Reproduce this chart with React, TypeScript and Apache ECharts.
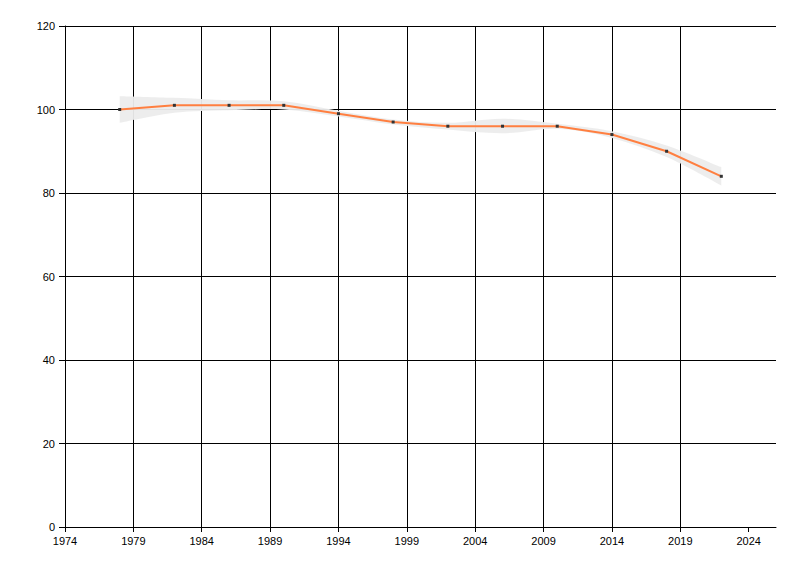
import React, { useEffect, useRef } from "react";
import * as echarts from "echarts";

const years = [1978, 1982, 1986, 1990, 1994, 1998, 2002, 2006, 2010, 2014, 2018, 2022];
const values = [100, 101, 101, 101, 99, 97, 96, 96, 96, 94, 90, 84];
const lowerBand = [96.8, 99.2, 99.8, 100, 98.3, 96.4, 95.2, 94.3, 95.4, 93.2, 88.6, 81.8];
const upperBand = [103.2, 102.8, 102.2, 102, 99.7, 97.6, 96.8, 97.8, 96.6, 94.8, 91.4, 86.2];
const xTicks = [1974, 1979, 1984, 1989, 1994, 1999, 2004, 2009, 2014, 2019, 2024];

function curveThrough(ctx: any, pts: number[][], k: number) {
  for (let i = 0; i < pts.length - 1; i++) {
    const p0 = pts[Math.max(0, i - 1)];
    const p1 = pts[i];
    const p2 = pts[i + 1];
    const p3 = pts[Math.min(pts.length - 1, i + 2)];
    const c1x = p1[0] + ((p2[0] - p0[0]) * k) / 6;
    const c1y = p1[1] + ((p2[1] - p0[1]) * k) / 6;
    const c2x = p2[0] - ((p3[0] - p1[0]) * k) / 6;
    const c2y = p2[1] - ((p3[1] - p1[1]) * k) / 6;
    ctx.bezierCurveTo(c1x, c1y, c2x, c2y, p2[0], p2[1]);
  }
}

let registered = false;
function registerBand() {
  if (registered) return;
  registered = true;
  const BandShape = (echarts.graphic as any).extendShape({
    type: "bandShape",
    shape: { upper: [], lower: [] },
    buildPath(ctx: any, shape: any) {
      const up: number[][] = shape.upper;
      const lo: number[][] = shape.lower.slice().reverse();
      if (!up.length) return;
      ctx.moveTo(up[0][0], up[0][1]);
      curveThrough(ctx, up, 1);
      ctx.lineTo(lo[0][0], lo[0][1]);
      curveThrough(ctx, lo, 1);
      ctx.closePath();
    },
  });
  echarts.graphic.registerShape("bandShape", BandShape);
}

export default function App() {
  const ref = useRef<HTMLDivElement>(null);
  useEffect(() => {
    registerBand();
    const chart = echarts.init(ref.current!, null, { renderer: "svg" });
    const font = "Liberation Sans";
    chart.setOption({
      animation: false,
      backgroundColor: "#ffffff",
      grid: { left: 65, top: 26, right: 24, bottom: 49, containLabel: false },
      xAxis: {
        type: "value",
        min: 1974,
        max: 2026,
        interval: 5,
        axisLine: { show: true, lineStyle: { color: "#000", width: 1 } },
        axisTick: { show: true, length: 5, lineStyle: { color: "#000" }, customValues: xTicks },
        axisLabel: {
          customValues: xTicks,
          margin: 8,
          color: "#000",
          fontFamily: font,
          fontSize: 11,
          formatter: (v: number) => String(v),
        },
        splitLine: { show: true, showMaxLine: false, lineStyle: { color: "#000", width: 1 } },
      },
      yAxis: {
        type: "value",
        min: 0,
        max: 120,
        interval: 20,
        axisLine: { show: true, lineStyle: { color: "#000", width: 1 } },
        axisTick: { show: true, length: 6, lineStyle: { color: "#000" } },
        axisLabel: { margin: 10, color: "#000", fontFamily: font, fontSize: 11 },
        splitLine: { show: true, lineStyle: { color: "#000", width: 1 } },
      },
      series: [
        {
          type: "custom",
          name: "band",
          silent: true,
          z: 3,
          data: years.map((y, i) => [y, lowerBand[i], upperBand[i]]),
          encode: { x: 0, y: [1, 2] },
          renderItem: (params: any, api: any) => {
            if (params.dataIndexInside !== 0) return null;
            const n = years.length;
            const upperPts: number[][] = [];
            const lowerPts: number[][] = [];
            for (let i = 0; i < n; i++) {
              const x = api.value(0, i);
              upperPts.push(api.coord([x, api.value(2, i)]));
              lowerPts.push(api.coord([x, api.value(1, i)]));
            }
            return {
              type: "bandShape",
              shape: { upper: upperPts, lower: lowerPts },
              style: { fill: "rgba(236,236,236,0.95)", stroke: "none" },
            };
          },
        },
        {
          type: "line",
          name: "value",
          data: years.map((y, i) => [y, values[i]]),
          symbol: "rect",
          symbolSize: 3,
          showSymbol: true,
          itemStyle: { color: "#333333" },
          lineStyle: { color: "#ff7f40", width: 2 },
          z: 5,
        },
      ],
    });
    return () => chart.dispose();
  }, []);
  return <div ref={ref} style={{ width: 800, height: 576, position: "absolute", left: 0, top: 0 }} />;
}
